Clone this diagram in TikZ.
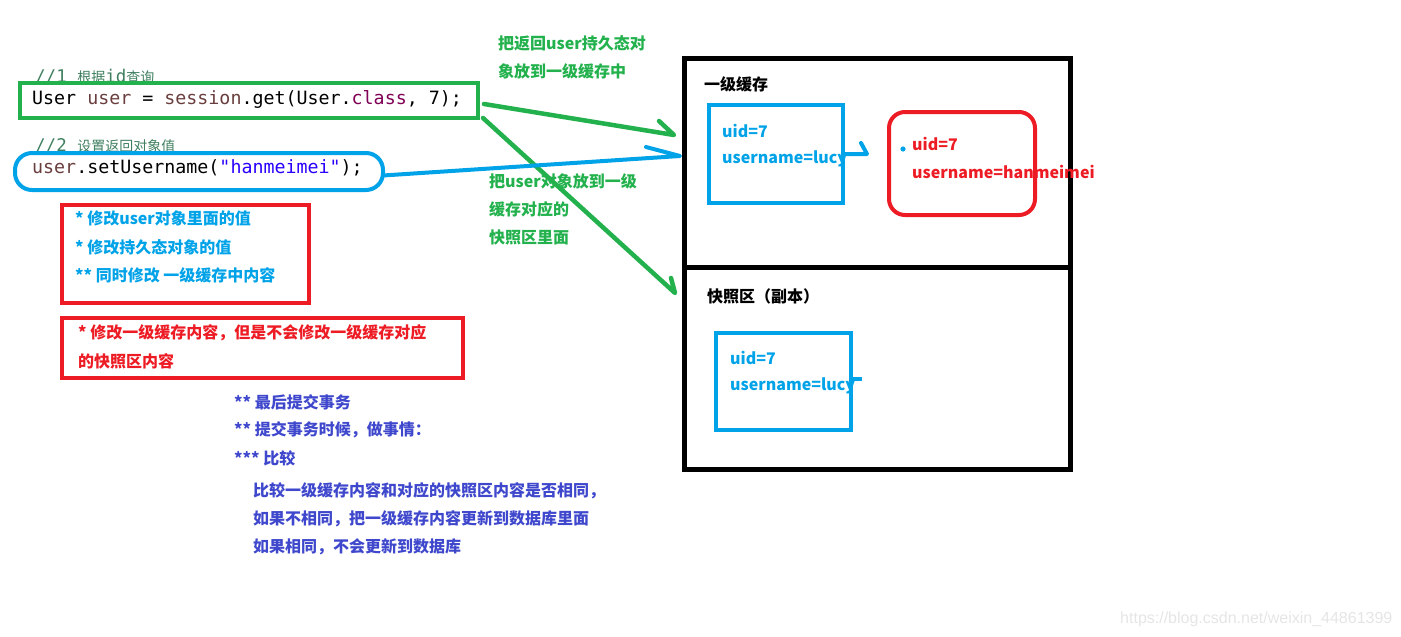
\documentclass[tikz,border=0pt]{standalone}
\usepackage{fontspec}
\newfontfamily\cjk{Noto Sans CJK SC}
\newfontfamily\mono{DejaVu Sans Mono}
\newfontfamily\wmfont{Liberation Sans}
\definecolor{grn}{HTML}{22B14C}
\definecolor{blu}{HTML}{00A2E8}
\definecolor{rd}{HTML}{ED1C24}
\definecolor{pbl}{HTML}{3F48CC}
\definecolor{cmt}{HTML}{3F7F5F}
\definecolor{varc}{HTML}{6A3E3E}
\definecolor{kw}{HTML}{7F0055}
\definecolor{strc}{HTML}{2A00FF}
\tikzset{
  txt/.style={anchor=west, inner sep=0pt, font=\cjk\bfseries\fontsize{16}{19}\selectfont},
  code/.style={anchor=west, inner sep=0pt, font=\mono\fontsize{18.3}{21}\selectfont},
  cmtxt/.style={anchor=base west, inner sep=0pt, text=cmt, font=\mono\fontsize{17.5}{21}\selectfont},
  gbox/.style={draw=grn, line width=4pt, outer sep=0pt},
  bbox/.style={draw=blu, line width=4pt, outer sep=0pt},
  rbox/.style={draw=rd, line width=4pt, outer sep=0pt},
  kbox/.style={draw=black, line width=5pt, outer sep=0pt},
  garrow/.style={draw=grn, line width=4.5pt, line join=round, line cap=round},
  barrow/.style={draw=blu, line width=4pt, line join=round, line cap=round},
}
\begin{document}
\begin{tikzpicture}[x=1pt,y=-1pt]
\useasboundingbox (0,0) rectangle (1401,637);
% code comments and lines
\node[cmtxt] (k1) at (35,82) {//1 {\cjk\fontsize{14}{16}\selectfont 根据}id{\cjk\fontsize{14}{16}\selectfont 查询}};
\node[code] (c1) at (32,99) {User \textcolor{varc}{user} = \textcolor{varc}{session}.get(User.\textcolor{kw}{class}, 7);};
\node[cmtxt] (k2) at (35,151) {//2 {\cjk\fontsize{14}{16}\selectfont 设置返回对象值}};
\node[code] (c2) at (32,168) {\textcolor{varc}{user}.setUsername(\textcolor{strc}{"hanmeimei"});};
\node[gbox, minimum width=458pt, minimum height=35pt, anchor=north west] (g1) at (20,83) {};
\node[bbox, rounded corners=17pt, minimum width=368pt, minimum height=37pt, anchor=north west] (e2) at (15,153) {};

% red box 1
\node[txt, text=blu] (r1a) at (75,218) {* 修改user对象里面的值};
\node[txt, text=blu] (r1b) at (75,247) {* 修改持久态对象的值};
\node[txt, text=blu] (r1c) at (75,275) {** 同时修改 一级缓存中内容};
\node[rbox, minimum width=247pt, minimum height=98pt, anchor=north west] (rb1) at (62,205) {};
% red box 2
\node[txt, text=rd] (r2a) at (78,333) {* 修改一级缓存内容，但是不会修改一级缓存对应};
\node[txt, text=rd] (r2b) at (78,361) {的快照区内容};
\node[rbox, minimum width=401pt, minimum height=60pt, anchor=north west] (rb2) at (62,318) {};

% commit notes
\node[txt, text=pbl] (p1) at (234,402) {** 最后提交事务};
\node[txt, text=pbl] (p2) at (234,430) {** 提交事务时候，做事情：};
\node[txt, text=pbl] (p3) at (234,458) {*** 比较};
\node[txt, text=pbl] (p4) at (253,491) {比较一级缓存内容和对应的快照区内容是否相同，};
\node[txt, text=pbl] (p5) at (253,519) {如果不相同，把一级缓存内容更新到数据库里面};
\node[txt, text=pbl] (p6) at (253,547) {如果相同，不会更新到数据库};

% green labels
\node[txt, text=grn] (gl1) at (498,43) {把返回user持久态对};
\node[txt, text=grn] (gl2) at (498,71) {象放到一级缓存中};
\node[txt, text=grn] (gl3) at (489,181) {把user对象放到一级};
\node[txt, text=grn] (gl4) at (489,209) {缓存对应的};
\node[txt, text=grn] (gl5) at (489,237) {快照区里面};

% session cache
\node[kbox, minimum width=386pt, minimum height=411pt, anchor=north west] (cache) at (684.5,58) {};
\coordinate (divl) at (684.5,267);
\coordinate (divr) at (1069,267);
\draw[black, line width=5pt] (divl) -- (divr);
\node[txt, text=black] (t1) at (704,84) {一级缓存};
\node[txt, text=black] (t2) at (707,296) {快照区（副本）};

\node[txt, text=blu] (a1) at (722,131) {uid=7};
\node[txt, text=blu] (a2) at (722,159) {username=lucy};
\node[bbox, minimum width=134pt, minimum height=98pt, anchor=north west] (boxA) at (709,105) {};

\node[txt, text=rd] (h1) at (912,144) {uid=7};
\node[txt, text=rd] (h2) at (912,172) {username=hanmeimei};
\node[rbox, rounded corners=16pt, minimum width=146pt, minimum height=103pt, anchor=north west] (boxH) at (889,112) {};
\fill[blu] (903,149) circle (2.6pt);

\node[txt, text=blu] (b1) at (730,358) {uid=7};
\node[txt, text=blu] (b2) at (730,386) {username=lucy};
\node[bbox, minimum width=135pt, minimum height=97pt, anchor=north west] (boxB) at (716,333) {};
\coordinate (tickB) at (862,379);
\draw[blu, line width=4pt] (boxB.east |- tickB) -- (tickB);

% arrows
\coordinate (g1s) at (484,104);
\coordinate (g1t) at (674,135);
\coordinate (g1b) at (659,121);
\draw[garrow] (g1s) -- (g1t) -- (g1b);
\coordinate (g2s) at (483,118);
\coordinate (g2t) at (675,293);
\coordinate (g2b) at (671,278);
\draw[garrow] (g2s) -- (g2t) -- (g2b);
\coordinate (bt) at (680,156);
\coordinate (bb) at (646,147);
\draw[barrow] (e2.east) ++(0,4) -- (bt) -- (bb);
\coordinate (sat) at (867,154);
\coordinate (sab) at (861,143);
\draw[barrow] (boxA.east |- sat) -- (sat) -- (sab);

% watermark
\node[anchor=west, inner sep=0pt, text=gray!20, font=\wmfont\fontsize{16}{18}\selectfont] (wm) at (1120,619) {https://blog.csdn.net/weixin\_44861399};
\end{tikzpicture}
\end{document}
